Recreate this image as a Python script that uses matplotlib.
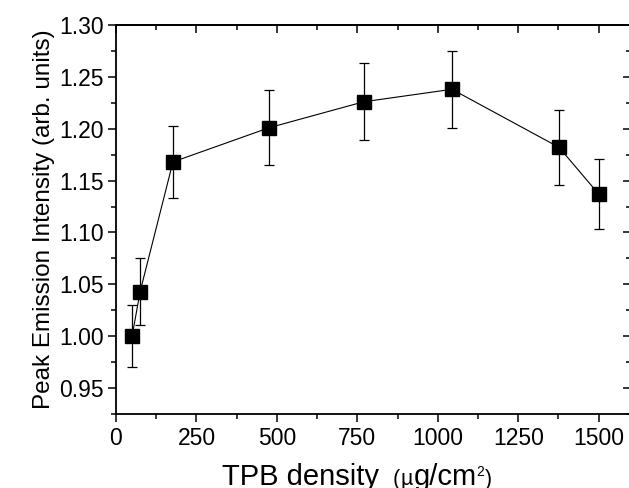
import numpy as np
import matplotlib.pyplot as plt
from matplotlib.ticker import MultipleLocator

plt.rcParams['font.family'] = ['Liberation Sans', 'DejaVu Sans']

# TPB density (ug/cm2) vs peak emission intensity
density = [50, 75, 177, 476, 770, 1044, 1377, 1500]
intensity = [1.000, 1.043, 1.168, 1.201, 1.226, 1.238, 1.182, 1.137]
err = [0.030, 0.032, 0.035, 0.036, 0.037, 0.037, 0.036, 0.034]

# x label pieces: (text, fontsize, gap before in px, raise in px)
xlabel_parts = [('TPB density', 21, 0, 0), ('(', 15.5, 14, 0), ('\u00b5', 15.5, 0.5, 0),
                 ('g/cm', 21, 1, 0), ('2', 10, -1, 9), (')', 15.5, 1, 0)]


def chain_text(fig, x0, y0, parts):
    # place texts one after another on the same baseline (pixel coords)
    renderer = fig.canvas.get_renderer()
    W, H = fig.bbox.width, fig.bbox.height
    x = x0
    for s, size, gap, rise in parts:
        x += gap
        t = fig.text(x / W, (y0 + rise) / H, s, fontsize=size,
                     ha='left', va='baseline')
        bb = t.get_window_extent(renderer)
        x = bb.x1


def main():
    fig = plt.figure(figsize=(6.29, 4.88), dpi=100)
    ax = fig.add_axes([0.1844, 0.1516, 0.8186, 0.7972])

    ax.errorbar(density, intensity, yerr=err, fmt='-', color='black',
                lw=0.8, elinewidth=0.9, capsize=3.5, capthick=0.9, zorder=2)
    ax.plot(density, intensity, 's', color='black', markersize=10, zorder=3)

    ax.set_xlim(0, 1600)
    ax.set_ylim(0.925, 1.30)
    ax.xaxis.set_major_locator(MultipleLocator(250))
    ax.xaxis.set_minor_locator(MultipleLocator(125))
    ax.yaxis.set_major_locator(MultipleLocator(0.05))
    ax.yaxis.set_minor_locator(MultipleLocator(0.025))
    ax.yaxis.set_major_formatter(plt.FormatStrFormatter('%.2f'))

    for s in ax.spines.values():
        s.set_linewidth(1.3)

    ax.tick_params(which='both', direction='out', top=False, right=False,
                   width=1.1, labelsize=16.5)
    ax.tick_params(which='major', length=6, pad=3)
    ax.tick_params(which='minor', length=3.5)

    # inward ticks on top and right, no labels
    axt = ax.secondary_xaxis('top')
    axt.xaxis.set_major_locator(MultipleLocator(250))
    axt.xaxis.set_minor_locator(MultipleLocator(125))
    axt.tick_params(which='both', direction='in', width=1.1, labeltop=False)
    axt.tick_params(which='major', length=6)
    axt.tick_params(which='minor', length=3.5)
    axr = ax.secondary_yaxis('right')
    axr.yaxis.set_major_locator(MultipleLocator(0.05))
    axr.yaxis.set_minor_locator(MultipleLocator(0.025))
    axr.tick_params(which='both', direction='in', width=1.1, labelright=False)
    axr.tick_params(which='major', length=6)
    axr.tick_params(which='minor', length=3.5)
    axt.spines['top'].set_linewidth(1.3)
    axr.spines['right'].set_linewidth(1.3)

    ax.set_ylabel('Peak Emission Intensity (arb. units)', fontsize=17.5, labelpad=3)

    chain_text(fig, 222, 488 - 485, xlabel_parts)

    fig.savefig('out.png', dpi=100)


if __name__ == "__main__":
    main()
